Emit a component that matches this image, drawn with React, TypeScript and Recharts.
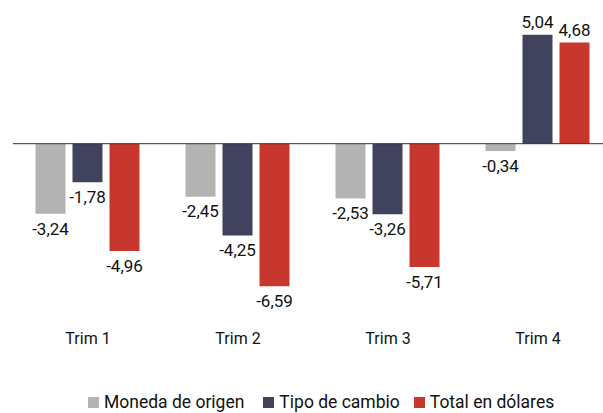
import React from 'react';
import { Bar, BarChart, LabelList, ReferenceLine, XAxis, YAxis } from 'recharts';

const trimestres = ['Trim 1', 'Trim 2', 'Trim 3', 'Trim 4'];
const monedaOrigen = [-3.24, -2.45, -2.53, -0.34];
const tipoCambio = [-1.78, -4.25, -3.26, 5.04];
const totalDolares = [-4.96, -6.59, -5.71, 4.68];

const series = [
  { key: 'moneda', name: 'Moneda de origen', color: '#b3b3b3' },
  { key: 'cambio', name: 'Tipo de cambio', color: '#41425e' },
  { key: 'total', name: 'Total en dólares', color: '#c8372d' },
];

const data = trimestres.map((t, i) => ({
  trim: t,
  moneda: monedaOrigen[i],
  cambio: tipoCambio[i],
  total: totalDolares[i],
}));

const FONT = 'Roboto, sans-serif';

function fmt(v: number) {
  return v.toFixed(2).replace('.', ',');
}

function ValueLabel(props: any) {
  const { x, y, width, height, value } = props;
  if (typeof value !== 'number') return null;
  const top = Math.min(y, y + height);
  const bottom = Math.max(y, y + height);
  const neg = value < 0;
  return (
    <text
      x={x + width / 2}
      y={neg ? bottom + 8 : top - 7}
      textAnchor="middle"
      dominantBaseline={neg ? 'hanging' : 'auto'}
      fill="#111"
      fontSize={17}
      fontFamily={FONT}
    >
      {fmt(value)}
    </text>
  );
}

// leyenda propia, fuera del gráfico
function CustomLegend() {
  const gaps = [19, 14, 0];
  return (
    <div
      style={{
        position: 'absolute',
        left: 88,
        top: 392,
        display: 'flex',
        fontFamily: FONT,
        fontSize: 17.5,
        color: '#111',
      }}
    >
      {series.map((s, i) => (
        <div key={s.key} style={{ display: 'flex', alignItems: 'center', marginRight: gaps[i] }}>
          <span style={{ width: 11, height: 11, background: s.color, marginRight: 5, display: 'inline-block' }} />
          <span>{s.name}</span>
        </div>
      ))}
    </div>
  );
}

export default function App() {
  return (
    <div style={{ position: 'absolute', left: 0, top: 0, width: 603, height: 413, overflow: 'hidden', background: '#fff' }}>
      <BarChart
        width={620}
        height={413}
        data={data}
        margin={{ top: 14, right: 7, bottom: 88, left: 13 }}
        barCategoryGap="15%"
        barGap={7}
      >
        <XAxis
          dataKey="trim"
          axisLine={false}
          tickLine={false}
          tickSize={0}
          tickMargin={38}
          height={30}
          tick={{ fill: '#111', fontSize: 16, fontFamily: FONT }}
        />
        <YAxis hide domain={[-7, 6]} />
        <ReferenceLine y={0} stroke="#333" strokeWidth={1} />
        {series.map((s) => (
          <Bar key={s.key} dataKey={s.key} name={s.name} fill={s.color} isAnimationActive={false}>
            <LabelList dataKey={s.key} content={<ValueLabel />} />
          </Bar>
        ))}
      </BarChart>
      <CustomLegend />
    </div>
  );
}
